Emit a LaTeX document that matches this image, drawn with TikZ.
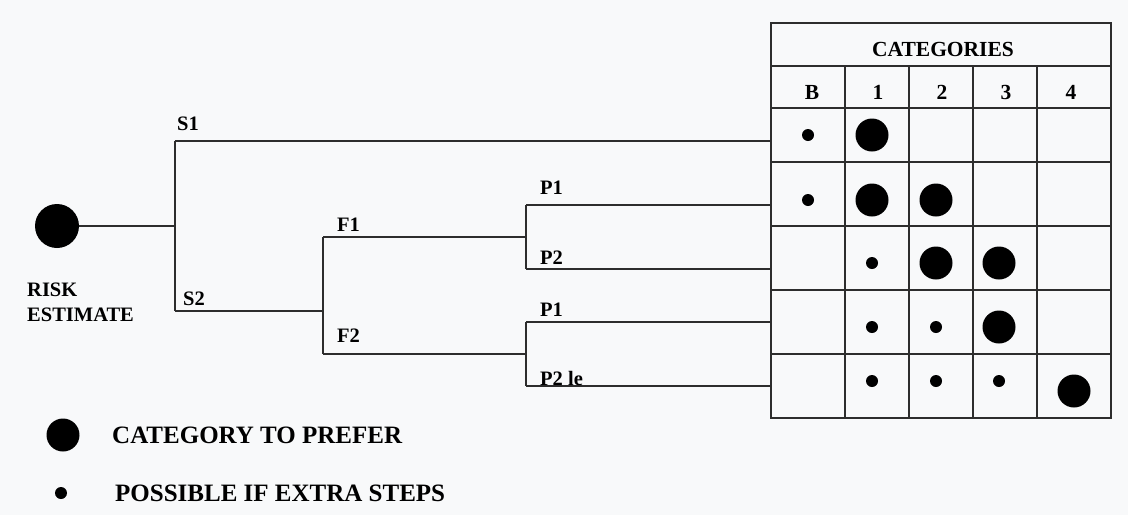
\documentclass[tikz,border=0pt]{standalone}
\usepackage{fontspec}
\setmainfont{Liberation Serif}
\definecolor{paper}{RGB}{248,249,250}
\definecolor{ink}{RGB}{45,45,45}

\begin{document}
\begin{tikzpicture}[x=1pt, y=-1pt,
    branch/.style={draw=ink, line width=1.2pt},
    lbl/.style={font=\fontsize{20.5}{24}\selectfont\bfseries, inner sep=0pt},
    hdr/.style={font=\fontsize{21.5}{24}\selectfont\bfseries, inner sep=0pt},
    keytext/.style={font=\fontsize{25}{28}\selectfont\bfseries, inner sep=0pt, anchor=base west},
    bigdot/.style={circle, fill=black, minimum size=33pt, inner sep=0pt},
    smalldot/.style={circle, fill=black, minimum size=12pt, inner sep=0pt}]
    \fill[paper] (0,0) rectangle (1128,515);
    \useasboundingbox (0,0) rectangle (1128,515);

    % table
    \coordinate (tl) at (771,23);
    \coordinate (br) at (1111,418);
    \draw[branch] (tl) rectangle (br);
    \foreach \y in {66,108,162,226,290,354}
      \draw[branch] (771,\y) -- (1111,\y);
    \foreach \x in {845,909,973,1037}
      \draw[branch] (\x,66) -- (\x,418);
    \node[hdr] (cat) at (943,49) {CATEGORIES};
    \foreach \x/\t in {812/B,878/1,942/2,1006/3,1071/4}
      \node[hdr] (col\t) at (\x,92) {\t};

    % tree
    \node[circle, fill=black, minimum size=44pt, inner sep=0pt] (root) at (57,226) {};
    \node[lbl, anchor=base west] (risk) at (27,296) {RISK};
    \node[lbl, anchor=base west] (estimate) at (27,321) {ESTIMATE};
    \coordinate (sj) at (175,226);
    \coordinate (s1) at (175,141);
    \coordinate (s2) at (175,311);
    \coordinate (fj) at (323,311);
    \coordinate (f1) at (323,237);
    \coordinate (f2) at (323,354);
    \coordinate (pa) at (526,237);
    \coordinate (pa1) at (526,205);
    \coordinate (pa2) at (526,269);
    \coordinate (pb) at (526,354);
    \coordinate (pb1) at (526,322);
    \coordinate (pb2) at (526,386);
    \draw[branch] (root) -- (sj);
    \draw[branch] (s1) -- (s2);
    \draw[branch] (s1) -- (s1 -| tl);
    \draw[branch] (s2) -- (fj);
    \draw[branch] (f1) -- (f2);
    \draw[branch] (f1) -- (pa);
    \draw[branch] (f2) -- (pb);
    \draw[branch] (pa1) -- (pa2);
    \draw[branch] (pb1) -- (pb2);
    \foreach \p in {pa1,pa2,pb1,pb2}
      \draw[branch] (\p) -- (\p -| tl);
    \node[lbl, anchor=base west] (s1lab) at (177,130) {S1};
    \node[lbl, anchor=base west] (s2lab) at (183,305) {S2};
    \node[lbl, anchor=base west] (f1lab) at (337,231) {F1};
    \node[lbl, anchor=base west] (f2lab) at (337,342) {F2};
    \node[lbl, anchor=base west] (pa1lab) at (540,194) {P1};
    \node[lbl, anchor=base west] (pa2lab) at (540,264) {P2};
    \node[lbl, anchor=base west] (pb1lab) at (540,316) {P1};
    \node[lbl, anchor=base west] (pb2lab) at (540,385) {P2 le};

    % dots in the table
    \foreach \n/\x/\y/\s in {a/808/135/smalldot, b/872/135/bigdot,
        c/808/200/smalldot, d/872/200/bigdot, e/936/200/bigdot,
        f/872/263/smalldot, g/936/263/bigdot, h/999/263/bigdot,
        i/872/327/smalldot, j/936/327/smalldot, k/999/327/bigdot,
        l/872/381/smalldot, m/936/381/smalldot, n/999/381/smalldot, o/1074/391/bigdot}
      \node[\s] (dot\n) at (\x,\y) {};

    % key
    \node[bigdot] (keybig) at (63,435) {};
    \node[keytext] (keybiglab) at (112,443) {CATEGORY TO PREFER};
    \node[smalldot] (keysmall) at (61,493) {};
    \node[keytext] (keysmalllab) at (115,501) {POSSIBLE IF EXTRA STEPS};
\end{tikzpicture}
\end{document}
